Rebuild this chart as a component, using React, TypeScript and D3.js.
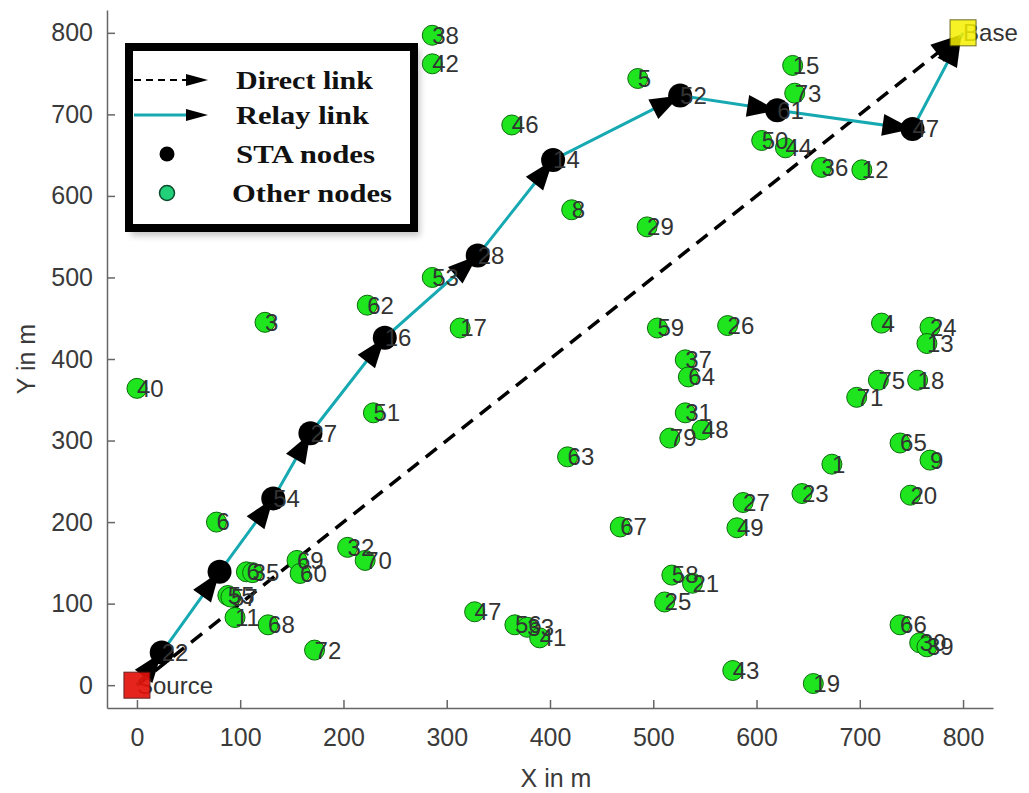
import React, { useEffect, useRef } from 'react';
import * as d3 from 'd3';

// axis ticks
const xTicks = [0, 100, 200, 300, 400, 500, 600, 700, 800];
const yTicks = [0, 100, 200, 300, 400, 500, 600, 700, 800];

// other (green) nodes
const otherIds = ['38', '42', '5', '46', '8', '29', '15', '73', '50', '44', '36', '12', '3', '40', '62', '51', '53', '17', '59', '37', '64', '31', '79', '48', '63', '26', '4', '24', '13', '75', '18', '71', '65', '9', '1', '20', '23', '27', '49', '21', '58', '25', '67', '47', '56', '33', '41', '43', '19', '66', '30', '39', '6', '6', '35', '55', '57', '11', '68', '72', '69', '60', '32', '70'];
const otherX = [286, 286, 485, 363, 421, 494, 635, 637, 605, 628, 663, 702, 124, 0, 223, 229, 286, 313, 504, 531, 534, 531, 516, 547, 417, 572, 721, 768, 765, 718, 756, 697, 739, 768, 673, 749, 644, 587, 581, 538, 518, 511, 468, 327, 366, 378, 390, 577, 655, 739, 758, 765, 77, 106, 112, 88, 91, 95, 127, 172, 155, 158, 204, 221];
const otherY = [797, 762, 744, 687, 583, 562, 760, 726, 668, 659, 635, 632, 445, 364, 466, 334, 500, 438, 438, 399, 378, 334, 303, 313, 280, 441, 444, 439, 419, 374, 374, 353, 297, 276, 271, 233, 235, 224, 193, 125, 135, 102, 194, 90, 74, 71, 58, 18, 2, 74, 52, 47, 200, 139, 138, 110, 108, 83, 74, 43, 153, 137, 169, 153];

// STA (relay) nodes, in path order
const staIds = ['22', '', '54', '27', '16', '28', '14', '52', '61', '47'];
const staX = [24, 80, 132, 168, 240, 330, 403, 526, 620, 751];
const staY = [40, 139, 229, 309, 426, 527, 644, 723, 705, 682];

const source = { name: 'Source', x: 0, y: 0 };
const base = { name: 'Base', x: 800, y: 800 };

const legendItems = ['Direct link', 'Relay link', 'STA nodes', 'Other nodes'];
const legendWidths = [137, 133, 139, 160];

const TEAL = '#16a9b2';
const GREEN = '#1ee51e';
const FONT = '"Liberation Sans", Arial, Helvetica, sans-serif';

const arrowHead = (g, x1, y1, x2, y2, len = 30, half = 11) => {
  const dx = x2 - x1;
  const dy = y2 - y1;
  const d = Math.hypot(dx, dy);
  const ux = dx / d;
  const uy = dy / d;
  const bx = x2 - ux * len;
  const by = y2 - uy * len;
  g.append('polygon')
    .attr('points', `${x2},${y2} ${bx - uy * half},${by + ux * half} ${bx + uy * half},${by - ux * half}`)
    .attr('fill', '#000');
};

const Chart = () => {
  const svgRef = useRef();

  useEffect(() => {
    const width = 1029;
    const height = 793;
    const svg = d3.select(svgRef.current).attr('width', width).attr('height', height);
    svg.selectAll('*').remove();

    const xScale = d3.scaleLinear().domain([-29, 829]).range([107, 993]);
    const yScale = d3.scaleLinear().domain([-28, 828]).range([708, 10]);

    svg.append('rect').attr('width', width).attr('height', height).attr('fill', '#fff');

    // axes, ticks pointing inward
    const xAxis = svg.append('g')
      .attr('transform', `translate(0,${yScale.range()[0]})`)
      .call(d3.axisBottom(xScale).tickValues(xTicks).tickSizeInner(-8).tickSizeOuter(0).tickPadding(20));
    const yAxis = svg.append('g')
      .attr('transform', `translate(${xScale.range()[0]},0)`)
      .call(d3.axisLeft(yScale).tickValues(yTicks).tickSizeInner(-8).tickSizeOuter(0).tickPadding(14));
    [xAxis, yAxis].forEach(a => {
      a.select('.domain').attr('stroke', '#666').attr('stroke-width', 1.5);
      a.selectAll('.tick line').attr('stroke', '#666').attr('stroke-width', 1.5);
      a.selectAll('.tick text')
        .attr('fill', '#3a3a3a')
        .style('font-family', FONT)
        .style('font-size', '25px');
    });

    svg.append('text')
      .attr('x', 556).attr('y', 778)
      .attr('text-anchor', 'middle').attr('dy', '0.35em')
      .attr('fill', '#3a3a3a').style('font-family', FONT).style('font-size', '25px')
      .text('X in m');
    svg.append('text')
      .attr('transform', 'translate(26,359) rotate(-90)')
      .attr('text-anchor', 'middle').attr('dy', '0.35em')
      .attr('fill', '#3a3a3a').style('font-family', FONT).style('font-size', '25px')
      .text('Y in m');

    const sx = xScale(source.x);
    const sy = yScale(source.y);
    const bx = xScale(base.x);
    const by = yScale(base.y);

    // direct link
    const dd = Math.hypot(bx - sx, by - sy);
    svg.append('line')
      .attr('x1', sx).attr('y1', sy)
      .attr('x2', bx - (bx - sx) / dd * 26).attr('y2', by - (by - sy) / dd * 26)
      .attr('stroke', '#000').attr('stroke-width', 3.5)
      .attr('stroke-dasharray', '14 9');
    arrowHead(svg, sx, sy, bx - (bx - sx) / dd * 3, by - (by - sy) / dd * 3);

    // relay path
    const path = [[sx, sy], ...staX.map((x, i) => [xScale(x), yScale(staY[i])]), [bx, by]];
    svg.append('path')
      .attr('d', d3.line()(path))
      .attr('fill', 'none').attr('stroke', TEAL).attr('stroke-width', 3);
    for (let i = 1; i < path.length; i++) {
      const last = i === path.length - 1;
      const [x0, y0] = path[i - 1];
      let [x1, y1] = path[i];
      if (last) {
        const d = Math.hypot(x1 - x0, y1 - y0);
        x1 -= (x1 - x0) / d * 4;
        y1 -= (y1 - y0) / d * 4;
      }
      arrowHead(svg, x0, y0, x1, y1);
    }

    // nodes
    svg.selectAll('circle.other')
      .data(otherIds)
      .join('circle')
      .attr('class', 'other')
      .attr('cx', (d, i) => xScale(otherX[i]))
      .attr('cy', (d, i) => yScale(otherY[i]))
      .attr('r', 10)
      .attr('fill', GREEN)
      .attr('stroke', '#0b6a0b')
      .attr('stroke-width', 1);

    svg.selectAll('circle.sta')
      .data(staIds)
      .join('circle')
      .attr('class', 'sta')
      .attr('cx', (d, i) => xScale(staX[i]))
      .attr('cy', (d, i) => yScale(staY[i]))
      .attr('r', 12)
      .attr('fill', '#000');

    // labels
    const labelStyle = sel => sel
      .attr('dy', '0.35em')
      .attr('fill', '#333')
      .style('font-family', FONT)
      .style('font-size', '24px');

    svg.selectAll('text.olab')
      .data(otherIds)
      .join('text')
      .attr('class', 'olab')
      .attr('x', (d, i) => xScale(otherX[i]))
      .attr('y', (d, i) => yScale(otherY[i]))
      .call(labelStyle)
      .text(d => d);

    svg.selectAll('text.slab')
      .data(staIds)
      .join('text')
      .attr('class', 'slab')
      .attr('x', (d, i) => xScale(staX[i]))
      .attr('y', (d, i) => yScale(staY[i]))
      .call(labelStyle)
      .text(d => d);

    svg.append('text').attr('x', sx).attr('y', sy).call(labelStyle).text(source.name);
    svg.append('text').attr('x', bx).attr('y', by).call(labelStyle).text(base.name);

    // source / base squares sit over their labels
    svg.append('rect')
      .attr('x', sx - 13).attr('y', sy - 13).attr('width', 26).attr('height', 26)
      .attr('fill', '#e3120b').attr('stroke', '#5a1010').attr('stroke-width', 1)
      .attr('opacity', 0.92);
    svg.append('rect')
      .attr('x', bx - 13).attr('y', by - 13).attr('width', 26).attr('height', 26)
      .attr('fill', '#f5f000').attr('stroke', '#555500').attr('stroke-width', 1)
      .attr('opacity', 0.85);

    // legend
    const defs = svg.append('defs');
    defs.append('filter').attr('id', 'lgshadow')
      .append('feGaussianBlur').attr('stdDeviation', 3);

    const lg = svg.append('g');
    lg.append('rect')
      .attr('x', 131).attr('y', 49).attr('width', 289).attr('height', 187)
      .attr('fill', '#999').attr('opacity', 0.55).attr('filter', 'url(#lgshadow)');
    lg.append('rect')
      .attr('x', 129).attr('y', 47).attr('width', 285).attr('height', 181)
      .attr('fill', '#fff').attr('stroke', '#000').attr('stroke-width', 8);

    const rowY = [80, 115, 154, 193];
    lg.append('line')
      .attr('x1', 134).attr('x2', 188).attr('y1', rowY[0]).attr('y2', rowY[0])
      .attr('stroke', '#000').attr('stroke-width', 2).attr('stroke-dasharray', '7 5');
    arrowHead(lg, 134, rowY[0], 208, rowY[0], 22, 6);
    lg.append('line')
      .attr('x1', 134).attr('x2', 190).attr('y1', rowY[1]).attr('y2', rowY[1])
      .attr('stroke', TEAL).attr('stroke-width', 3);
    arrowHead(lg, 134, rowY[1], 208, rowY[1], 22, 6);
    lg.append('circle').attr('cx', 167).attr('cy', rowY[2]).attr('r', 7.5).attr('fill', '#000');
    lg.append('circle').attr('cx', 167).attr('cy', rowY[3]).attr('r', 7.5)
      .attr('fill', '#22d07a').attr('stroke', '#0b4a2a').attr('stroke-width', 1.5);

    lg.selectAll('text.lg')
      .data(legendItems)
      .join('text')
      .attr('class', 'lg')
      .attr('x', (d, i) => (i === 3 ? 232 : 236))
      .attr('y', (d, i) => rowY[i])
      .attr('dy', '0.35em')
      .attr('textLength', (d, i) => legendWidths[i])
      .attr('lengthAdjust', 'spacingAndGlyphs')
      .attr('fill', '#111')
      .style('font-family', '"Liberation Serif", "Times New Roman", serif')
      .style('font-weight', 'bold')
      .style('font-size', '25px')
      .text(d => d);
  }, []);

  return <svg ref={svgRef} style={{ position: 'absolute', left: 0, top: 0 }}></svg>;
};

export default function App() {
  return <Chart />;
}
